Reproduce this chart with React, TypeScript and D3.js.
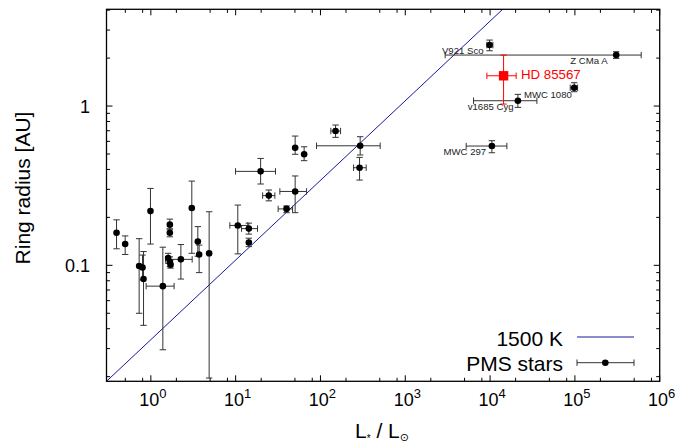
import React, { useEffect, useRef } from 'react'
import * as d3 from 'd3'

// PMS stars without labels (luminosity in Lsun, ring radius in AU)
const pmsL = [0.394, 0.498, 0.99, 1.675, 1.675, 3.04, 3.58, 3.71, 4.87, 0.728, 0.798, 0.82, 1.385, 1.6, 1.675, 1.707, 2.26, 10.6, 14.3, 14.3, 19.7, 24.6, 39.8, 50.3, 50.3, 64.2, 150.7, 294, 289]
const pmsLlo = [null, null, null, null, null, null, null, null, null, null, null, null, 0.88, null, null, null, 1.49, 8.54, 11.74, null, 9.97, 20.8, 31.7, 33.2, null, null, 132.6, 89.9, 245.6]
const pmsLhi = [null, null, null, null, null, null, null, null, null, null, null, null, 1.88, null, null, null, 3.07, 13.9, 18.1, null, 29.5, 29.0, 46.9, 68.6, null, null, 172.6, 506, 346]
const pmsR = [0.160, 0.136, 0.219, 0.180, 0.160, 0.229, 0.141, 0.117, 0.119, 0.099, 0.097, 0.082, 0.074, 0.111, 0.105, 0.101, 0.109, 0.178, 0.170, 0.139, 0.389, 0.274, 0.226, 0.291, 0.547, 0.498, 0.697, 0.563, 0.410]
const pmsRlo = [0.127, 0.117, 0.136, 0.169, 0.151, 0.119, 0.114, 0.090, 0.0196, 0.050, 0.081, 0.042, 0.0295, 0.103, 0.098, 0.096, 0.082, 0.118, 0.157, 0.131, 0.324, 0.254, 0.214, 0.214, 0.498, 0.454, 0.636, 0.493, 0.343]
const pmsRhi = [0.193, 0.153, 0.304, 0.195, 0.169, 0.338, 0.175, 0.134, 0.217, 0.147, 0.116, 0.122, 0.130, 0.119, 0.113, 0.108, 0.135, 0.239, 0.184, 0.148, 0.469, 0.297, 0.236, 0.364, 0.648, 0.555, 0.760, 0.642, 0.476]

// labelled stars
const namedStars = ['V921 Sco', 'Z CMa A', 'MWC 1080', 'v1685 Cyg', 'MWC 297']
const namedL = [9863, 3.07e5, 98100, 21280, 10500]
const namedLlo = [9170, 2954, 88050, 6385, 5226]
const namedLhi = [10790, 6.05e5, 107600, 35650, 15780]
const namedR = [2.415, 2.09, 1.303, 1.08, 0.561]
const namedRlo = [2.224, 1.992, 1.23, 0.981, 0.509]
const namedRhi = [2.596, 2.193, 1.401, 1.184, 0.606]
// label offsets [dx, dy, anchor]
const namedLabelPos: [number, number, string][] = [[-6, 8.5, 'end'], [-8.6, 9, 'end'], [-2.3, 10.6, 'end'], [-4.3, 8.8, 'end'], [-5.7, 9, 'end']]

// HD 85567
const hdL = [14430]
const hdLlo = [9170]
const hdLhi = [20300]
const hdR = [1.549]
const hdRlo = [1.029]
const hdRhi = [2.09]

// 1500 K dust sublimation line (end points)
const lineL = [0.3, 20000]
const lineR = [0.0187, 4.83]

const xDecades = [1, 10, 100, 1000, 10000, 100000, 1000000]
const xExp = ['0', '1', '2', '3', '4', '5', '6']
const yMajor = [0.1, 1]
const yMajorLabels = ['0.1', '1']

const W = 677
const H = 444
const FONT = '"Liberation Sans", Arial, "DejaVu Sans", sans-serif'

const App: React.FC = () => {
  const svgRef = useRef<SVGSVGElement>(null)

  useEffect(() => {
    if (!svgRef.current) return
    const svg = d3.select(svgRef.current)
    svg.selectAll('*').remove()

    const left = 106.5, right = 659.7, top = 9.3, bottom = 381.3
    const x = d3.scaleLog().domain([0.3, 1e6]).range([left, right])
    const y = d3.scaleLog().domain([0.0187, 4.05]).range([bottom, top])

    svg.append('clipPath').attr('id', 'plotclip')
      .append('rect').attr('x', left).attr('y', top).attr('width', right - left).attr('height', bottom - top)

    // ticks (inward, mirrored)
    const tk = svg.append('g').attr('stroke', '#000').attr('stroke-width', 1)
    const xMinor: number[] = []
    for (let e = -1; e < 6; e++) [2, 5, 8].forEach(m => { const v = m * Math.pow(10, e); if (v > 0.3 && v < 1e6) xMinor.push(v) })
    const yMinor: number[] = []
    for (let e = -2; e < 1; e++) for (let m = 2; m <= 9; m++) { const v = m * Math.pow(10, e); if (v > 0.0187 && v < 4.05) yMinor.push(v) }
    const xTicks = [...xDecades.map(v => ({ v, l: 6 })), ...xMinor.map(v => ({ v, l: 3.5 }))]
    const yTicks = [...yMajor.map(v => ({ v, l: 6 })), ...yMinor.map(v => ({ v, l: 3.5 }))]
    xTicks.forEach(t => {
      tk.append('line').attr('x1', x(t.v)).attr('x2', x(t.v)).attr('y1', bottom).attr('y2', bottom - t.l)
      tk.append('line').attr('x1', x(t.v)).attr('x2', x(t.v)).attr('y1', top).attr('y2', top + t.l)
    })
    yTicks.forEach(t => {
      tk.append('line').attr('y1', y(t.v)).attr('y2', y(t.v)).attr('x1', left).attr('x2', left + t.l)
      tk.append('line').attr('y1', y(t.v)).attr('y2', y(t.v)).attr('x1', right).attr('x2', right - t.l)
    })

    // tick labels
    xDecades.forEach((v, i) => {
      const t = svg.append('text')
        .attr('x', x(v) + 2)
        .attr('y', 406)
        .attr('text-anchor', 'middle')
        .style('font-family', FONT)
        .style('font-size', '18px')
      t.append('tspan').text('10')
      t.append('tspan').attr('dy', -8).style('font-size', '13px').text(xExp[i])
    })
    yMajor.forEach((v, i) => {
      svg.append('text')
        .attr('x', 90)
        .attr('y', y(v) + 6.5)
        .attr('text-anchor', 'end')
        .style('font-family', FONT)
        .style('font-size', '18px')
        .text(yMajorLabels[i])
    })

    // axis titles
    svg.append('text')
      .attr('transform', 'translate(29.5,188) rotate(-90)')
      .attr('text-anchor', 'middle')
      .style('font-family', FONT)
      .style('font-size', '21px')
      .text('Ring radius [AU]')
    const xl = svg.append('text')
      .attr('x', 355)
      .attr('y', 438)
      .style('font-family', FONT)
      .style('font-size', '21px')
    xl.append('tspan').text('L')
    xl.append('tspan').attr('dy', 4).style('font-size', '10px').text('*')
    xl.append('tspan').attr('dy', -4).text(' / L')
    xl.append('tspan').attr('dy', 3).style('font-size', '11px').style('font-family', '"DejaVu Sans", sans-serif').text('⊙')

    const plot = svg.append('g').attr('clip-path', 'url(#plotclip)')

    // 1500 K line
    plot.append('path')
      .attr('d', d3.line<number>().x((_, i) => x(lineL[i])).y(d => y(d))(lineR))
      .attr('fill', 'none')
      .attr('stroke', '#18189c')
      .attr('stroke-width', 1)

    const cap = 3.2
    const drawErr = (g: d3.Selection<SVGGElement, unknown, null, undefined>, L: number, R: number,
      Llo: number | null, Lhi: number | null, Rlo: number, Rhi: number, color: string) => {
      const cx = x(L), cy = y(R)
      const e = g.append('g').attr('stroke', color).attr('stroke-width', 1)
      e.append('line').attr('x1', cx).attr('x2', cx).attr('y1', y(Rlo)).attr('y2', y(Rhi))
      e.append('line').attr('x1', cx - cap).attr('x2', cx + cap).attr('y1', y(Rlo)).attr('y2', y(Rlo))
      e.append('line').attr('x1', cx - cap).attr('x2', cx + cap).attr('y1', y(Rhi)).attr('y2', y(Rhi))
      if (Llo != null && Lhi != null) {
        e.append('line').attr('y1', cy).attr('y2', cy).attr('x1', x(Llo)).attr('x2', x(Lhi))
        e.append('line').attr('y1', cy - cap).attr('y2', cy + cap).attr('x1', x(Llo)).attr('x2', x(Llo))
        e.append('line').attr('y1', cy - cap).attr('y2', cy + cap).attr('x1', x(Lhi)).attr('x2', x(Lhi))
      }
    }

    pmsL.forEach((L, i) => drawErr(plot, L, pmsR[i], pmsLlo[i], pmsLhi[i], pmsRlo[i], pmsRhi[i], '#333'))
    namedL.forEach((L, i) => drawErr(plot, L, namedR[i], namedLlo[i], namedLhi[i], namedRlo[i], namedRhi[i], '#333'))
    hdL.forEach((L, i) => drawErr(plot, L, hdR[i], hdLlo[i], hdLhi[i], hdRlo[i], hdRhi[i], '#ff0000'))

    plot.selectAll('.pms')
      .data([...pmsL.map((L, i) => [L, pmsR[i]]), ...namedL.map((L, i) => [L, namedR[i]])])
      .enter()
      .append('circle')
      .attr('cx', d => x(d[0]))
      .attr('cy', d => y(d[1]))
      .attr('r', 3.3)
      .attr('fill', '#000')

    hdL.forEach((L, i) => {
      plot.append('rect')
        .attr('x', x(L) - 4.7).attr('y', y(hdR[i]) - 4.7)
        .attr('width', 9.4).attr('height', 9.4)
        .attr('fill', '#ff0000')
      svg.append('text')
        .attr('x', x(L) + 17.3)
        .attr('y', y(hdR[i]) + 3)
        .style('font-family', FONT)
        .style('font-size', '13.3px')
        .style('fill', '#ff0000')
        .text('HD 85567')
    })

    namedStars.forEach((name, i) => {
      const [dx, dy, anchor] = namedLabelPos[i]
      svg.append('text')
        .attr('x', x(namedL[i]) + dx)
        .attr('y', y(namedR[i]) + dy)
        .attr('text-anchor', anchor)
        .style('font-family', FONT)
        .style('font-size', '9.6px')
        .style('fill', '#222')
        .text(name)
    })

    // legend
    const lg = svg.append('g').style('font-family', FONT).style('font-size', '21px')
    lg.append('text').attr('x', 563).attr('y', 345.5).attr('text-anchor', 'end').text('1500 K')
    lg.append('line').attr('x1', 577).attr('x2', 634).attr('y1', 337).attr('y2', 337)
      .attr('stroke', '#18189c').attr('stroke-width', 1)
    lg.append('text').attr('x', 563).attr('y', 371).attr('text-anchor', 'end').text('PMS stars')
    const le = lg.append('g').attr('stroke', '#333').attr('stroke-width', 1)
    le.append('line').attr('x1', 577).attr('x2', 634).attr('y1', 362.7).attr('y2', 362.7)
    le.append('line').attr('x1', 577).attr('x2', 577).attr('y1', 362.7 - cap).attr('y2', 362.7 + cap)
    le.append('line').attr('x1', 634).attr('x2', 634).attr('y1', 362.7 - cap).attr('y2', 362.7 + cap)
    lg.append('circle').attr('cx', 605.3).attr('cy', 362.7).attr('r', 3.3).attr('fill', '#000')

    // frame
    svg.append('rect')
      .attr('x', left).attr('y', top).attr('width', right - left).attr('height', bottom - top)
      .attr('fill', 'none').attr('stroke', '#000').attr('stroke-width', 1.3)
  }, [])

  return (
    <svg
      ref={svgRef}
      width={W}
      height={H}
      style={{ position: 'absolute', left: 0, top: 0, background: '#fff' }}
    />
  )
}

export default App
